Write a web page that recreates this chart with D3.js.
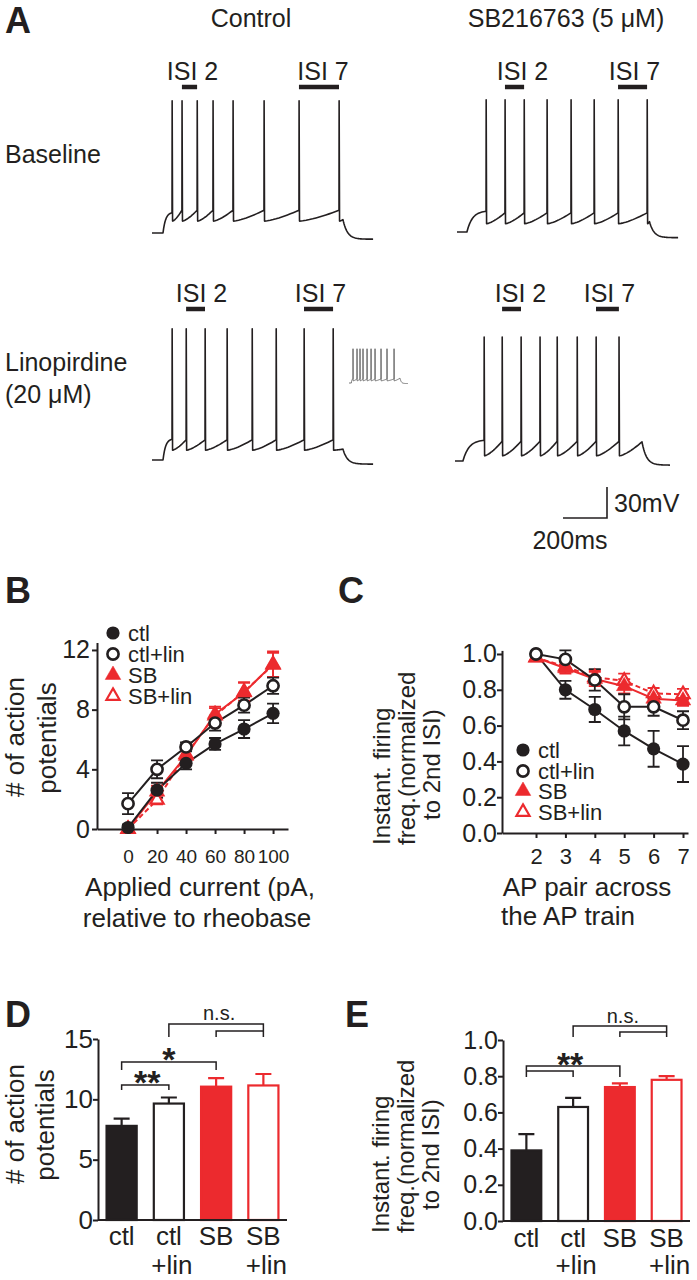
<!DOCTYPE html>
<html><head><meta charset="utf-8">
<script src="https://cdn.jsdelivr.net/npm/d3@7"></script>
<style>
body{margin:0;background:#fff}
svg{display:block}
text{font-family:"Liberation Sans",Arial,Helvetica,sans-serif;fill:#231f20}
</style>
</head><body>
<svg id="fig" width="697" height="1280"></svg>
<script>
// ================= DATA =================
// Panel A – recorded traces: spike times (ms from trace start)
const spikesCtlBase = [91,136,205,277,368,509,668,850];
const spikesSbBase  = [132,218,305,409,518,623,732,864];
const spikesCtlLin  = [91,155,241,341,455,564,691,823];
const spikesSbLin   = [132,214,300,386,464,555,641,745];
const spikesInset   = [68,136,187,238,307,375,443,545,647,767];
// voltage levels (mV): rest, first threshold, threshold, AHP trough, spike peak, at step end, final rest
const mvCtlBase = [-70,-50.5,-48,-58.5,58,-57,-76];
const mvSbBase  = [-70,-50,-51.5,-62,58,-60,-75.5];
const mvCtlLin  = [-70,-50,-50.5,-60.5,57,-59.5,-74];
const mvSbLin   = [-70,-50,-51,-65,50,-51.5,-74];
const mvInset   = [-70,-55,-55,-62,57,-52,-72];
// timing (ms): step on, step off, trace end
const msCtlBase = [50,868,1005];
const msSbBase  = [45,875,1005];
const msCtlLin  = [50,868,1005];
const msSbLin   = [36,850,977];
const msInset   = [40,869,1005];

// Panel B – number of APs vs applied current
const currentX = [0,20,40,60,80,100];
const apCtl     = [0.1,2.6,4.4,5.7,6.7,7.75];
const apCtlErr  = [0.2,0.5,0.4,0.4,0.6,0.65];
const apCtlLin  = [1.7,4.0,5.5,7.1,8.3,9.6];
const apCtlLinErr=[0.7,0.6,0.3,0.5,0.5,0.55];
const apSb      = [0,2.5,4.9,7.7,9.15,11.05];
const apSbErr   = [0.1,0.4,0.4,0.5,0.7,0.85];
const apSbLin   = [0,1.95,5.0,7.6,9.2,11.0];
const apSbLinErr= [0.1,0.3,0.4,0.5,0.6,0.8];
const yTicksB = [0,4,8,12];

// Panel C – normalized instantaneous frequency vs AP pair
const apPair = [2,3,4,5,6,7];
const frCtl     = [1.0,0.80,0.69,0.57,0.47,0.385];
const frCtlErr  = [0,0.05,0.07,0.08,0.10,0.10];
const frCtlLin  = [1.0,0.97,0.855,0.705,0.705,0.63];
const frCtlLinErr=[0,0.05,0.06,0.07,0.05,0.05];
const frSb      = [0.98,0.92,0.86,0.82,0.75,0.74];
const frSbErr   = [0.02,0.03,0.04,0.04,0.03,0.03];
const frSbLin   = [0.98,0.93,0.87,0.85,0.78,0.775];
const frSbLinErr= [0.02,0.03,0.04,0.04,0.03,0.03];
const yTicksC = [0,0.2,0.4,0.6,0.8,1.0];

// Panels D, E – bar summaries
const barCats = ["ctl","ctl+lin","SB","SB+lin"];
const barLabels = [["ctl"],["ctl","+lin"],["SB"],["SB","+lin"]];
const apBar    = [7.8,9.65,11.05,11.15];
const apBarErr = [0.6,0.5,0.7,0.95];
const frBar    = [0.39,0.63,0.74,0.78];
const frBarErr = [0.09,0.05,0.02,0.02];
const yTicksD = [0,5,10,15];
const yTicksE = [0,0.2,0.4,0.6,0.8,1.0];
const legendNames = ["ctl","ctl+lin","SB","SB+lin"];

// ================= DRAWING =================
const RED = "#ec2a2e", INK = "#231f20";
const svg = d3.select("#fig");
const FONT = 25;

function txt(x, y, s, size, opts = {}) {
  const t = svg.append("text").attr("x", x).attr("y", y).text(s)
    .style("font-size", size + "px");
  if (opts.anchor) t.attr("text-anchor", opts.anchor);
  if (opts.bold) t.style("font-weight", "bold");
  if (opts.rotate) t.attr("transform", `rotate(-90,${x},${y})`);
  if (opts.baseline) t.attr("dominant-baseline", opts.baseline);
  return t;
}

// ---------- Panel A ----------
txt(5, 33, "A", 36, {bold: true});
txt(251, 27, "Control", FONT, {anchor: "middle"});
txt(566, 27, "SB216763 (5 \u03bcM)", FONT, {anchor: "middle"});
txt(5, 163, "Baseline", FONT);
txt(5, 371, "Linopirdine", FONT);
txt(5, 403, "(20 \u03bcM)", FONT);

function tracePts(spikes, mv, ms) {
  const [rest, thr0, thr, ahp, peak, vOff, restEnd] = mv;
  const [tOn, tOff, tEnd] = ms;
  const pts = [[0, rest], [tOn, rest]];
  const t1 = spikes[0];
  for (let i = 1; i <= 14; i++) {
    const s = i / 14;
    pts.push([tOn + s * (t1 - tOn), rest + (thr0 - rest) * (1 - Math.exp(-3.5 * s)) / (1 - Math.exp(-3.5))]);
  }
  spikes.forEach((ts, i) => {
    pts.push([ts + 0.6, peak]);
    pts.push([ts + 2.5, ahp]);
    const nxt = i < spikes.length - 1 ? spikes[i + 1] : tOff;
    const target = i < spikes.length - 1 ? thr : vOff;
    const t0 = ts + 2.5;
    for (let k = 1; k <= 12; k++) {
      const s = k / 12;
      pts.push([t0 + s * (nxt - t0), ahp + (target - ahp) * Math.pow(s, 1.4)]);
    }
  });
  const tau = 20;
  for (let t = tOff + 2; t <= tEnd; t += 3) {
    pts.push([t, restEnd + (vOff - restEnd) * Math.exp(-(t - tOff) / tau)]);
  }
  pts.push([tEnd, restEnd + (vOff - restEnd) * Math.exp(-(tEnd - tOff) / tau)]);
  return pts;
}

function drawTrace(spikes, mv, ms, x0, restY, pxMs, pxMv, color, width, isiRowY, isiLabels) {
  const x = d3.scaleLinear().domain([0, 1000]).range([x0, x0 + 1000 * pxMs]);
  const y = d3.scaleLinear().domain([mv[0], mv[0] + 100]).range([restY, restY - 100 * pxMv]);
  const line = d3.line().x(d => x(d[0])).y(d => y(d[1]));
  svg.append("path").attr("d", line(tracePts(spikes, mv, ms)))
    .attr("fill", "none").attr("stroke", color).attr("stroke-width", width)
    .attr("stroke-linejoin", "round");
  if (isiRowY != null) {
    const pairs = [[1, 2, "ISI 2", isiLabels[0]], [6, 7, "ISI 7", isiLabels[1]]];
    pairs.forEach(([a, b, lab, dx]) => {
      const xa = x(spikes[a]), xb = x(spikes[b]);
      svg.append("line").attr("x1", xa).attr("x2", xb).attr("y1", isiRowY).attr("y2", isiRowY)
        .attr("stroke", INK).attr("stroke-width", 4.5);
      txt((xa + xb) / 2 + dx, isiRowY - 7, lab, FONT, {anchor: "middle"});
    });
  }
}
const pxMs = 0.22, pxMv = 1.033;
drawTrace(spikesCtlBase, mvCtlBase, msCtlBase, 152, 233, pxMs, pxMv, INK, 1.6, 87, [3, 4]);
drawTrace(spikesSbBase, mvSbBase, msSbBase, 457, 232, pxMs, pxMv, INK, 1.6, 87, [8, 2]);
drawTrace(spikesCtlLin, mvCtlLin, msCtlLin, 152, 460, pxMs, pxMv, INK, 1.6, 309, [6, 2]);
drawTrace(spikesSbLin, mvSbLin, msSbLin, 455, 461, pxMs, pxMv, INK, 1.6, 309, [9, 2]);
drawTrace(spikesInset, mvInset, msInset, 349, 383, 0.0587, 0.27, "#555", 0.8, null, null);

// scale bar (200 ms, 30 mV)
{
  const sx = d3.scaleLinear().domain([0, 200]).range([563, 563 + 200 * pxMs]);
  const sy = d3.scaleLinear().domain([0, 30]).range([518, 518 - 30 * pxMv]);
  svg.append("path").attr("d", `M${sx(0)},${sy(0)}H${sx(200)}V${sy(30)}`)
    .attr("fill", "none").attr("stroke", INK).attr("stroke-width", 1.6);
  txt(sx(200) + 7, 512, "30mV", FONT);
  txt(570, 549, "200ms", FONT, {anchor: "middle"});
}

// ---------- marker helpers ----------
const markerStyle = {
  "ctl":    {shape: "circle", fill: INK, stroke: INK},
  "ctl+lin":{shape: "circle", fill: "#fff", stroke: INK},
  "SB":     {shape: "tri", fill: RED, stroke: RED},
  "SB+lin": {shape: "tri", fill: "#fff", stroke: RED}
};
function marker(g, name, cx, cy) {
  const st = markerStyle[name];
  if (st.shape === "circle") {
    const filled = st.fill !== "#fff";
    g.append("circle").attr("cx", cx).attr("cy", cy).attr("r", filled ? 6.6 : 5.6)
      .attr("fill", st.fill).attr("stroke", st.stroke).attr("stroke-width", filled ? 0 : 2.6);
  } else {
    const filled = st.fill !== "#fff";
    g.append("path").attr("d", d3.symbol(d3.symbolTriangle, filled ? 105 : 75)())
      .attr("transform", `translate(${cx},${cy})`)
      .attr("fill", st.fill).attr("stroke", st.stroke).attr("stroke-width", filled ? 0.5 : 2.2);
  }
}

function linePanel(xs, series, xScale, yScale, capW) {
  const g = svg.append("g");
  series.forEach(s => {
    const line = d3.line().x((d, i) => xScale(xs[i])).y(d => yScale(d));
    g.append("path").attr("d", line(s.v)).attr("fill", "none")
      .attr("stroke", s.color).attr("stroke-width", 2)
      .attr("stroke-dasharray", s.dash || null);
  });
  series.forEach(s => {
    s.v.forEach((v, i) => {
      const e = s.e[i]; if (!e) return;
      const cx = xScale(xs[i]);
      g.append("path").attr("d",
        `M${cx},${yScale(v - e)}V${yScale(v + e)}M${cx - capW},${yScale(v + e)}H${cx + capW}M${cx - capW},${yScale(v - e)}H${cx + capW}`)
        .attr("stroke", s.color).attr("stroke-width", 1.8).attr("fill", "none");
    });
  });
  series.forEach(s => s.v.forEach((v, i) => marker(g, s.name, xScale(xs[i]), yScale(v))));
}

function styleAxis(g, size) {
  g.attr("color", INK);
  g.select(".domain").attr("stroke-width", 2);
  g.selectAll(".tick line").attr("stroke-width", 2);
  g.selectAll("text").style("font-size", size + "px")
    .style("font-family", '"Liberation Sans",Arial,sans-serif').attr("fill", INK);
}

function legend(x, ys, fontSize) {
  const g = svg.append("g");
  legendNames.forEach((n, i) => {
    marker(g, n, x, ys[i]);
    g.append("text").attr("x", x + 15).attr("y", ys[i]).attr("dominant-baseline", "central")
      .style("font-size", fontSize + "px").text(n);
  });
}

// ---------- Panel B ----------
txt(5, 603, "B", 36, {bold: true});
{
  const x = d3.scaleLinear().domain([-21.4, 110.3]).range([97, 288]);
  const y = d3.scaleLinear().domain([0, 12.5]).range([829, 642.5]);
  linePanel(currentX, [
    {name: "SB+lin", v: apSbLin, e: apSbLinErr, color: RED, dash: "5,3"},
    {name: "SB", v: apSb, e: apSbErr, color: RED},
    {name: "ctl", v: apCtl, e: apCtlErr, color: INK},
    {name: "ctl+lin", v: apCtlLin, e: apCtlLinErr, color: INK}
  ], x, y, 6);
  const gy = svg.append("g").attr("transform", "translate(97,0)")
    .call(d3.axisLeft(y).tickValues(yTicksB).tickSize(5).tickSizeOuter(0).tickPadding(2).tickFormat(d3.format("d")));
  styleAxis(gy, 25);
  const gx = svg.append("g").attr("transform", "translate(0,829)")
    .call(d3.axisBottom(x).tickValues(currentX).tickSize(5).tickSizeOuter(0).tickFormat(d3.format("d")));
  styleAxis(gx, 19);
  gx.selectAll("text").attr("y", 34).attr("dy", 0);
  txt(15, 737, "# of action", 26, {anchor: "middle", rotate: true, baseline: "central"});
  txt(47, 738, "potentials", 26, {anchor: "middle", rotate: true, baseline: "central"});
  txt(200, 896, "Applied current (pA,", 26, {anchor: "middle"});
  txt(197, 927, "relative to rheobase", 26, {anchor: "middle"});
  legend(113, [633, 654, 675, 696], 22);
}

// ---------- Panel C ----------
txt(338, 603, "C", 36, {bold: true});
{
  const x = d3.scaleLinear().domain([0.843, 7.17]).range([502, 688]);
  const y = d3.scaleLinear().domain([0, 1.02]).range([833, 650.4]);
  linePanel(apPair, [
    {name: "SB+lin", v: frSbLin, e: frSbLinErr, color: RED, dash: "5,3"},
    {name: "SB", v: frSb, e: frSbErr, color: RED},
    {name: "ctl", v: frCtl, e: frCtlErr, color: INK},
    {name: "ctl+lin", v: frCtlLin, e: frCtlLinErr, color: INK}
  ], x, y, 6);
  const gy = svg.append("g").attr("transform", "translate(502,0)")
    .call(d3.axisLeft(y).tickValues(yTicksC).tickSize(5).tickSizeOuter(0).tickPadding(0).tickFormat(d3.format(".1f")));
  styleAxis(gy, 25);
  const gx = svg.append("g").attr("transform", "translate(0,833)")
    .call(d3.axisBottom(x).tickValues(apPair).tickSize(5).tickSizeOuter(0).tickFormat(d3.format("d")));
  styleAxis(gx, 22);
  gx.selectAll("text").attr("y", 31).attr("dy", 0);
  txt(381, 845, "Instant. firing", 24, {rotate: true, baseline: "central"});
  txt(406, 845, "freq.(normalized", 24, {rotate: true, baseline: "central"});
  txt(431, 820, "to 2nd ISI)", 24, {rotate: true, baseline: "central"});
  txt(587, 896, "AP pair across", 26, {anchor: "middle"});
  txt(568, 925, "the AP train", 26, {anchor: "middle"});
  legend(523, [750, 771, 791, 812], 22);
}

// ---------- bar panels ----------
function barPanel(vals, errs, x0, x1, y, ticks, fmt, lab1Y, lab2Y, tickFont) {
  const x = d3.scaleBand().domain(barCats).range([x0, x1]).paddingInner(0.32).paddingOuter(0.16);
  const g = svg.append("g");
  const colors = [INK, INK, RED, RED];
  const fills = [INK, "#fff", RED, "#fff"];
  barCats.forEach((c, i) => {
    const cx = x(c) + x.bandwidth() / 2;
    const top = y(vals[i] + errs[i]);
    g.append("path").attr("d", `M${cx},${y(vals[i])}V${top}M${cx - 8},${top}H${cx + 8}`)
      .attr("stroke", colors[i]).attr("stroke-width", 2.2).attr("fill", "none");
    g.append("rect").attr("x", x(c) + 1).attr("width", x.bandwidth() - 2)
      .attr("y", y(vals[i])).attr("height", y(0) - y(vals[i]))
      .attr("fill", fills[i]).attr("stroke", colors[i]).attr("stroke-width", 2.2);
    barLabels[i].forEach((s, k) => {
      txt(cx + (k ? 3 : 0), k ? lab2Y : lab1Y, s, 26, {anchor: "middle"});
    });
  });
  const gy = svg.append("g").attr("transform", `translate(${x0},0)`)
    .call(d3.axisLeft(y).tickValues(ticks).tickSize(5).tickSizeOuter(0).tickPadding(0).tickFormat(fmt));
  styleAxis(gy, tickFont);
  svg.append("line").attr("x1", x0).attr("x2", x1).attr("y1", y(0)).attr("y2", y(0))
    .attr("stroke", INK).attr("stroke-width", 2);
  return d => x(d) + x.bandwidth() / 2;
}
function bracket(path, w) {
  svg.append("path").attr("d", path).attr("fill", "none").attr("stroke", INK).attr("stroke-width", w || 1.5);
}
function stars(cx, cyCenter, s) {
  txt(cx, cyCenter + 19, s, 34, {anchor: "middle", bold: true});
}

// ---------- Panel D ----------
txt(5, 1027, "D", 36, {bold: true});
{
  const y = d3.scaleLinear().domain([0, 15]).range([1220, 1039]);
  const cx = barPanel(apBar, apBarErr, 98, 287, y, yTicksD, d3.format("d"), 1245, 1274, 26);
  const X = barCats.map(cx);
  bracket(`M${X[0]},${y(10.77)}V${y(11.18)}H${X[1]}V${y(10.77)}`);
  bracket(`M${X[0]},${y(12.43)}V${y(13.09)}H${X[2]}V${y(12.43)}`);
  bracket(`M${X[1]},${y(15.16)}V${y(16.24)}H${X[3]}V${y(15.16)}M${X[2]},${y(15.16)}V${y(15.66)}H${X[3]}`);
  stars((X[0] + X[1]) / 2 + 2, y(12.0), "**");
  stars((X[0] + X[2]) / 2, y(13.9), "*");
  txt((X[1] + X[3]) / 2 + 3, y(17.1) + 6, "n.s.", 20, {anchor: "middle"});
  txt(15, 1124, "# of action", 26, {anchor: "middle", rotate: true, baseline: "central"});
  txt(45, 1125, "potentials", 26, {anchor: "middle", rotate: true, baseline: "central"});
}

// ---------- Panel E ----------
txt(345, 1027, "E", 36, {bold: true});
{
  const y = d3.scaleLinear().domain([0, 1]).range([1221, 1040]);
  const cx = barPanel(frBar, frBarErr, 503, 690, y, yTicksE, d3.format(".1f"), 1247, 1274, 25);
  const X = barCats.map(cx);
  bracket(`M${X[0]},${y(0.796)}V${y(0.856)}H${X[2]}V${y(0.796)}M${X[0]},${y(0.829)}H${X[1]}V${y(0.796)}`);
  bracket(`M${X[1]},${y(1.017)}V${y(1.077)}H${X[3]}V${y(1.017)}M${X[2]},${y(1.017)}V${y(1.044)}H${X[3]}`);
  stars((X[0] + X[2]) / 2 - 3, y(0.906), "**");
  txt((X[1] + X[3]) / 2 + 3, y(1.127) + 6, "n.s.", 20, {anchor: "middle"});
  txt(380, 1233, "Instant. firing", 24, {rotate: true, baseline: "central"});
  txt(405, 1233, "freq.(normalized", 24, {rotate: true, baseline: "central"});
  txt(430, 1210, "to 2nd ISI)", 24, {rotate: true, baseline: "central"});
}
</script>
</body></html>
